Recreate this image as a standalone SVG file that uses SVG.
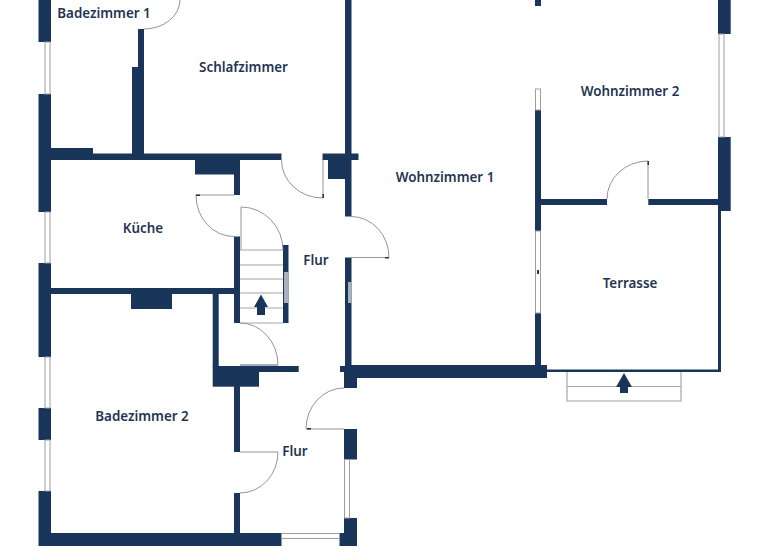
<svg xmlns="http://www.w3.org/2000/svg" width="768" height="560" viewBox="0 0 768 560">
<style>
.w{fill:#19365a;stroke:none}
.t{font-family:"Noto Sans",sans-serif;font-size:13.4px;font-weight:600;fill:#1f3552;text-anchor:middle}
.d{fill:none;stroke:#84888e;stroke-width:0.9}
.g{fill:none;stroke:#a3a6a9;stroke-width:1.2}
.win{fill:#fff;stroke:#9a9ea3;stroke-width:1}
.p{fill:#a9b1bb;stroke:none}
</style>
<rect width="768" height="560" fill="#fff"/>
<g id="connectors">
<g id="walls">
<rect class="w" x="38.500" y="0" width="12.500" height="42"/>
<rect class="w" x="38.500" y="94" width="12.500" height="118"/>
<rect class="w" x="38.500" y="263" width="12.500" height="94"/>
<rect class="w" x="38.500" y="408" width="12.500" height="32"/>
<path class="w" d="M38.500 491H51V533H281.500V546H38.500Z"/>
<rect class="w" x="51" y="153.500" width="230.500" height="6.500"/>
<rect class="w" x="51" y="148" width="42" height="8"/>
<rect class="w" x="132" y="67" width="12" height="88"/>
<rect class="w" x="138" y="29" width="6" height="40"/>
<rect class="w" x="345" y="0" width="6.500" height="216.500"/>
<rect class="w" x="322.500" y="153.500" width="36" height="6.500"/>
<rect class="w" x="328" y="160" width="17" height="19"/>
<rect class="w" x="195" y="160" width="45" height="14.500"/>
<rect class="w" x="234" y="174" width="6" height="21"/>
<rect class="w" x="234" y="236.500" width="6" height="86.500"/>
<rect class="w" x="283" y="245" width="5.500" height="78"/>
<rect class="w" x="51" y="288" width="183" height="6"/>
<rect class="w" x="131" y="294" width="41" height="15"/>
<rect class="w" x="212.700" y="294" width="6" height="73"/>
<rect class="w" x="212.700" y="366" width="46.300" height="20.700"/>
<rect class="w" x="219" y="366" width="79.700" height="6"/>
<rect class="w" x="234" y="386" width="6" height="66"/>
<rect class="w" x="234" y="493" width="6" height="40"/>
<rect class="w" x="345" y="257.500" width="6.500" height="110"/>
<rect class="w" x="345" y="365" width="202" height="13"/>
<rect class="w" x="340" y="366" width="6" height="6"/>
<rect class="w" x="344" y="372" width="13" height="16"/>
<rect class="w" x="344" y="429" width="13" height="30.500"/>
<path class="w" d="M344 518H357V546H339.500V533H344Z"/>
<rect class="w" x="535" y="0" width="6" height="6"/>
<rect class="w" x="535" y="110" width="6" height="121"/>
<rect class="w" x="535" y="313" width="6" height="60"/>
<rect class="w" x="541" y="199" width="66" height="6"/>
<rect class="w" x="648.300" y="199" width="70" height="6"/>
<rect class="w" x="718" y="0" width="12.700" height="34"/>
<rect class="w" x="718" y="137" width="12.700" height="74"/>
<rect class="w" x="718" y="205" width="3" height="167"/>
<rect class="w" x="541" y="369.500" width="180" height="2.500"/>
</g>
<g id="windows">
<rect class="win" x="45" y="42" width="5" height="52"/>
<rect class="win" x="45" y="212" width="5" height="51"/>
<rect class="win" x="45" y="357" width="5" height="51"/>
<rect class="win" x="45" y="440" width="5" height="51"/>
<rect class="win" x="281.500" y="533.500" width="58" height="5"/>
<rect class="win" x="344.500" y="459.500" width="5" height="58.500"/>
<rect class="win" x="535.500" y="89" width="5" height="21"/>
<rect class="win" x="535.500" y="231" width="5" height="82"/>
<rect class="w" x="537" y="270" width="2" height="4"/>
<rect class="win" x="719" y="34" width="5" height="103"/>
</g>
<g id="doors">
<path class="d" d="M144 29A36 29 0 0 0 180 0"/>
<path class="d" d="M281.500 160A41 38 0 0 0 323 198V160"/>
<path class="d" d="M234 195H196A38 41 0 0 0 234 236.500"/>
<path class="d" d="M241 250V207A42 43 0 0 1 283 250"/>
<path class="d" d="M240 323A38 42 0 0 1 278 365"/>
<path class="d" d="M240 452H278A38 41 0 0 1 240 493"/>
<path class="d" d="M351 216.500A38 41 0 0 1 389 257.500H351"/>
<path class="d" d="M344 388A38 41 0 0 0 306 429H344"/>
<path class="d" d="M607 199A41 38 0 0 1 648 161V199"/>
<rect class="w" x="307" y="428" width="4" height="1.500"/>
<rect class="w" x="385" y="257" width="4" height="1.500"/>
<rect class="w" x="647.500" y="161" width="1.500" height="4"/>
<rect class="w" x="322.500" y="194" width="1.500" height="4"/>
<rect class="w" x="196" y="194.500" width="4" height="1.500"/>
<rect class="p" x="240" y="364" width="38" height="2"/>
</g>
<g id="stairs">
<path class="g" d="M240 250H283M240 265H283M240 279H283M240 293H283M240 308H283M240 323H283"/>
<rect class="p" x="284" y="272" width="4.500" height="31"/>
<rect class="p" x="348" y="282" width="3.500" height="21"/>
<path class="w" d="M261 294.500L268 307H265V315H257V307H254Z"/>
<path class="g" d="M567 372V401H681V372M567 386.500H681"/>
<path class="w" d="M624 373L632 387H628V393H620V387H616Z"/>
</g>
</g>
<g id="n-bad1"><text class="t" x="104" y="17.500">Badezimmer 1</text></g>
<g id="n-schlaf"><text class="t" x="243.500" y="71.500">Schlafzimmer</text></g>
<g id="n-wohn1"><text class="t" x="445" y="181.500">Wohnzimmer 1</text></g>
<g id="n-wohn2"><text class="t" x="630" y="96">Wohnzimmer 2</text></g>
<g id="n-kueche"><text class="t" x="143" y="233">Küche</text></g>
<g id="n-flur1"><text class="t" x="316" y="265">Flur</text></g>
<g id="n-terrasse"><text class="t" x="630" y="287.500">Terrasse</text></g>
<g id="n-bad2"><text class="t" x="142" y="421">Badezimmer 2</text></g>
<g id="n-flur2"><text class="t" x="295" y="455.500">Flur</text></g>
</svg>
